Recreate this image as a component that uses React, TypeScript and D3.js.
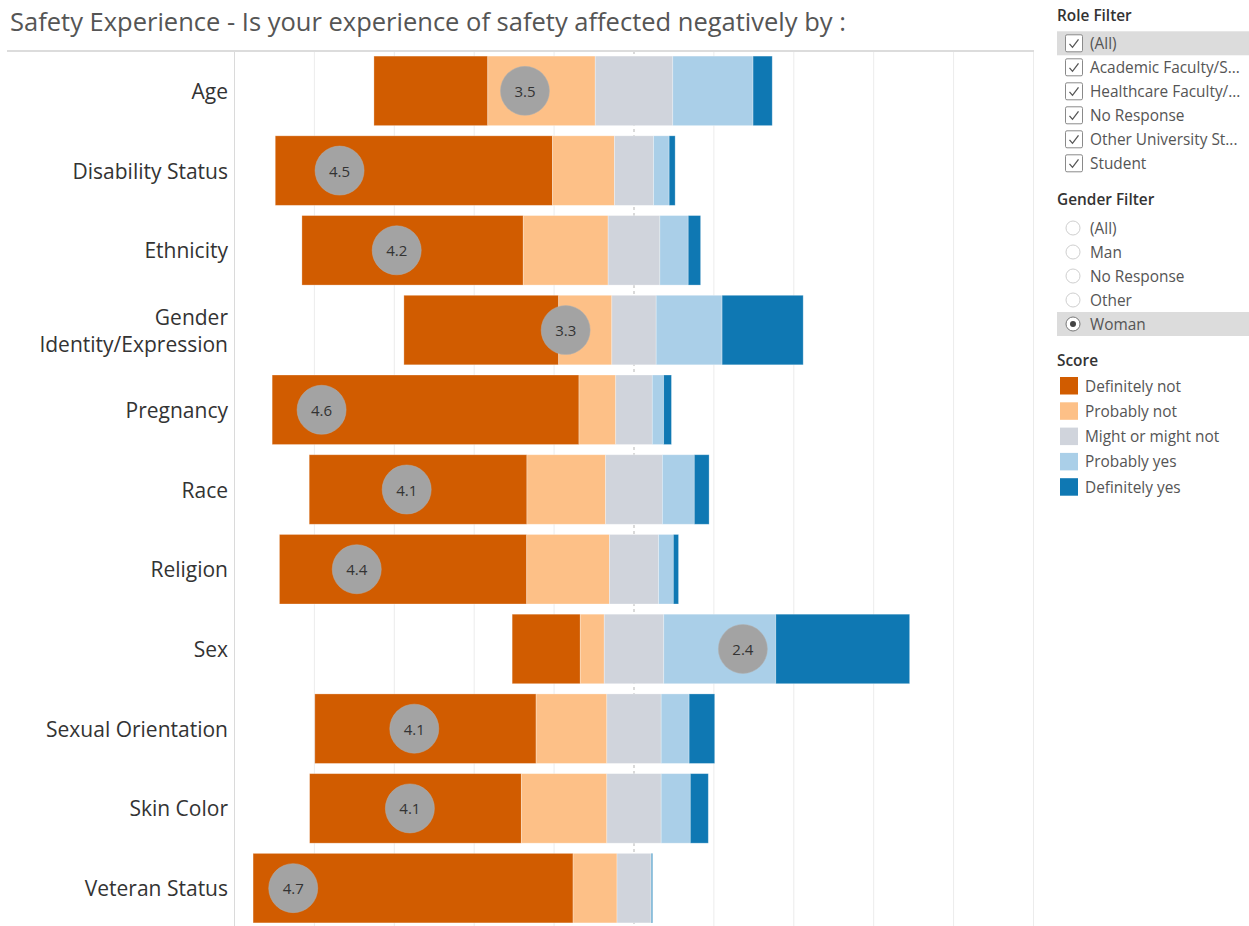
import React from "react";
import * as d3 from "d3";

const categories = [
  "Age",
  "Disability Status",
  "Ethnicity",
  "Gender Identity/Expression",
  "Pregnancy",
  "Race",
  "Religion",
  "Sex",
  "Sexual Orientation",
  "Skin Color",
  "Veteran Status",
];
const definitelyNot = [28.5, 69.4, 55.4, 38.75, 76.8, 54.5, 61.9, 17.05, 55.4, 53.0, 80.1];
const probablyNot = [26.9, 15.5, 21.25, 13.3, 9.2, 19.7, 20.7, 6.0, 17.7, 21.4, 11.0];
const mightOrMightNot = [19.4, 9.8, 12.95, 11.1, 9.15, 14.2, 12.3, 14.9, 13.6, 13.6, 8.5];
const probablyYes = [20.1, 3.9, 7.1, 16.5, 2.85, 8.0, 3.7, 28.05, 7.0, 7.3, 0.1];
const definitelyYes = [4.8, 1.5, 3.1, 20.3, 1.95, 3.7, 1.3, 33.5, 6.4, 4.5, 0.3];
const avgScore = [3.5, 4.5, 4.2, 3.3, 4.6, 4.1, 4.4, 2.4, 4.1, 4.1, 4.7];
const scorePosition = [-27.3, -73.7, -59.4, -17.1, -78.2, -56.9, -69.4, 27.25, -55.0, -56.1, -85.3];
const xTicks = [-100, -80, -60, -40, -20, 0, 20, 40, 60, 80, 100];

const scoreLabels = ["Definitely not", "Probably not", "Might or might not", "Probably yes", "Definitely yes"];
const scoreColors = ["#d15c00", "#fdc087", "#d0d4dc", "#aacfe8", "#0f78b3"];
const roleOptions = ["(All)", "Academic Faculty/S...", "Healthcare Faculty/...", "No Response", "Other University St...", "Student"];
const genderOptions = ["(All)", "Man", "No Response", "Other", "Woman"];
const selectedGender = "Woman";

const FONT = "'Open Sans', 'Noto Sans', sans-serif";
const SMALL = 15.4;

export default function App() {
  const W = 1249;
  const H = 926;
  const x = d3.scaleLinear().domain([-100, 100]).range([234.5, 1033.5]);
  const y = d3
    .scaleBand<string>()
    .domain(categories)
    .range([51, 928])
    .paddingInner(0.128)
    .paddingOuter(0.064);

  const series = [definitelyNot, probablyNot, mightOrMightNot, probablyYes, definitelyYes];

  const rows = categories.map((c, i) => {
    const vals = series.map((s) => s[i]);
    let start = -(vals[0] + vals[1] + vals[2] / 2);
    const segs = vals.map((v, k) => {
      const s = { x0: start, x1: start + v, color: scoreColors[k] };
      start += v;
      return s;
    });
    return { c, i, segs };
  });

  return (
    <svg
      width={W}
      height={H}
      style={{ position: "absolute", left: 0, top: 0, display: "block", background: "#fff" }}
      fontFamily={FONT}
    >
      {/* title */}
      <text x={10} y={31} fontSize={25.5} fill="#555">
        Safety Experience - Is your experience of safety affected negatively by :
      </text>

      {/* gridlines */}
      {xTicks.map((t) => (
        <line
          key={t}
          x1={x(t)}
          x2={x(t)}
          y1={51}
          y2={H}
          stroke={t === 0 ? "#b5b5b5" : t === -100 ? "#dadada" : "#ececec"}
          strokeWidth={1}
          strokeDasharray={t === 0 ? "3,3" : undefined}
        />
      ))}
      <line x1={7} x2={1034} y1={51} y2={51} stroke="#dcdcdc" strokeWidth={2} />

      {/* bars */}
      {rows.map((r) => {
        const y0 = y(r.c)!;
        const bh = y.bandwidth();
        const cy = y0 + bh / 2;
        return (
          <g key={r.c}>
            {r.segs.map((s, k) =>
              s.x1 - s.x0 > 0 ? (
                <rect
                  key={k}
                  x={x(s.x0)}
                  y={y0}
                  width={x(s.x1) - x(s.x0)}
                  height={bh}
                  fill={s.color}
                  stroke="rgba(255,255,255,0.35)"
                  strokeWidth={0.8}
                />
              ) : null
            )}
            <circle cx={x(scorePosition[r.i])} cy={cy} r={24.5} fill="#a3a3a3" stroke="#b0b0b0" strokeWidth={0.5} />
            <text
              x={x(scorePosition[r.i])}
              y={cy}
              textAnchor="middle"
              dominantBaseline="central"
              fontSize={15}
              fill="#333"
            >
              {avgScore[r.i].toFixed(1)}
            </text>
          </g>
        );
      })}

      {/* category labels */}
      {categories.map((c) => {
        const cy = y(c)! + y.bandwidth() / 2;
        const lines = c === "Gender Identity/Expression" ? ["Gender", "Identity/Expression"] : [c];
        return (
          <text key={c} x={228} textAnchor="end" fontSize={21} fill="#333">
            {lines.map((l, k) => (
              <tspan key={k} x={228} y={cy + (k - (lines.length - 1) / 2) * 27} dominantBaseline="central">
                {l}
              </tspan>
            ))}
          </text>
        );
      })}

      {/* Role filter */}
      <text x={1057} y={21} fontSize={SMALL} fontWeight={600} fill="#333">
        Role Filter
      </text>
      {roleOptions.map((o, i) => {
        const cy = 43.3 + i * 24;
        return (
          <g key={o}>
            {i === 0 && <rect x={1057} y={cy - 12} width={W - 1057} height={24} fill="#dcdcdc" />}
            <rect x={1065.5} y={cy - 8.5} width={17} height={17} rx={1.5} fill="#fff" stroke="#8a8a8a" strokeWidth={1} />
            <path
              d={`M${1069.5},${cy + 0.5} L${1072.5},${cy + 4} L${1078.5},${cy - 4}`}
              fill="none"
              stroke="#555"
              strokeWidth={1.3}
            />
            <text x={1090} y={cy} dominantBaseline="central" fontSize={SMALL} fill="#555">
              {o}
            </text>
          </g>
        );
      })}

      {/* Gender filter */}
      <text x={1057} y={205} fontSize={SMALL} fontWeight={600} fill="#333">
        Gender Filter
      </text>
      {genderOptions.map((o, i) => {
        const cy = 228 + i * 24;
        const sel = o === selectedGender;
        return (
          <g key={o}>
            {sel && <rect x={1057} y={cy - 12} width={W - 1057} height={24} fill="#dcdcdc" />}
            <circle cx={1073} cy={cy} r={7} fill="#fff" stroke={sel ? "#777" : "#cfcfcf"} strokeWidth={1} />
            {sel && <circle cx={1073} cy={cy} r={3} fill="#444" />}
            <text x={1090} y={cy} dominantBaseline="central" fontSize={SMALL} fill="#555">
              {o}
            </text>
          </g>
        );
      })}

      {/* Score legend */}
      <text x={1057} y={366} fontSize={SMALL} fontWeight={600} fill="#333">
        Score
      </text>
      {scoreLabels.map((l, i) => {
        const top = 377 + i * 25.3;
        return (
          <g key={l}>
            <rect x={1060} y={top} width={18} height={17.5} fill={scoreColors[i]} />
            <text x={1085} y={top + 9} dominantBaseline="central" fontSize={SMALL} fill="#555">
              {l}
            </text>
          </g>
        );
      })}
    </svg>
  );
}
